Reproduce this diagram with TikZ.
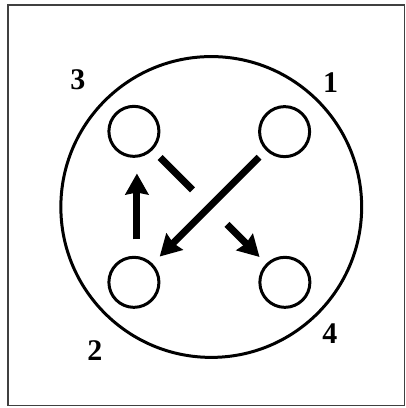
\documentclass[tikz,border=0pt]{standalone}
\usepackage{fontspec}
\setmainfont{Liberation Serif}
\usetikzlibrary{arrows.meta, calc}
\tikzset{
  every picture/.style={line width=3pt},
  hole/.style={draw, circle, inner sep=0pt, minimum size=1.76cm},
  arrow/.style={-{Stealth[length=21pt, width=23pt, inset=2pt]}, line width=7pt},
  num/.style={font=\bfseries\fontsize{30}{30}\selectfont},
}
\begin{document}
\begin{tikzpicture}[disc/.style={draw, circle, inner sep=0pt, minimum size=10.58cm},
  frame/.style={draw=black!75, line width=1.5pt}]
  \useasboundingbox (-7.43,-7.07) rectangle (6.84,7.28);
  \draw[frame] (-7.15,-6.99) rectangle (6.80,7.10);
  \node[disc] (D) at (0, 0) {};
  % the four holes
  \node[hole] (H1) at (2.58, 2.65) {};
  \node[hole] (H2) at (-2.72, -2.65) {};
  \node[hole] (H3) at (-2.72, 2.66) {};
  \node[hole] (H4) at (2.59, -2.65) {};
  \node[num] (n1) at (4.20, 4.36) {1};
  \node[num] (n2) at (-4.09, -5.06) {2};
  \node[num] (n3) at (-4.69, 4.48) {3};
  \node[num] (n4) at (4.17, -4.46) {4};
  % order of the bolts
  \draw[arrow, shorten <=0.34cm, shorten >=0.35cm] (H1) -- (H2);
  \draw[arrow, shorten <=0.58cm, shorten >=0.55cm] ([xshift=3pt]H2.north) -- ([xshift=3pt]H3.south);
  \draw[line width=7pt] ($(H3)!0.173!(H4)$) -- ($(H3)!0.388!(H4)$);
  \draw[arrow] ($(H3)!0.616!(H4)$) -- ($(H3)!0.832!(H4)$);
\end{tikzpicture}
\end{document}
